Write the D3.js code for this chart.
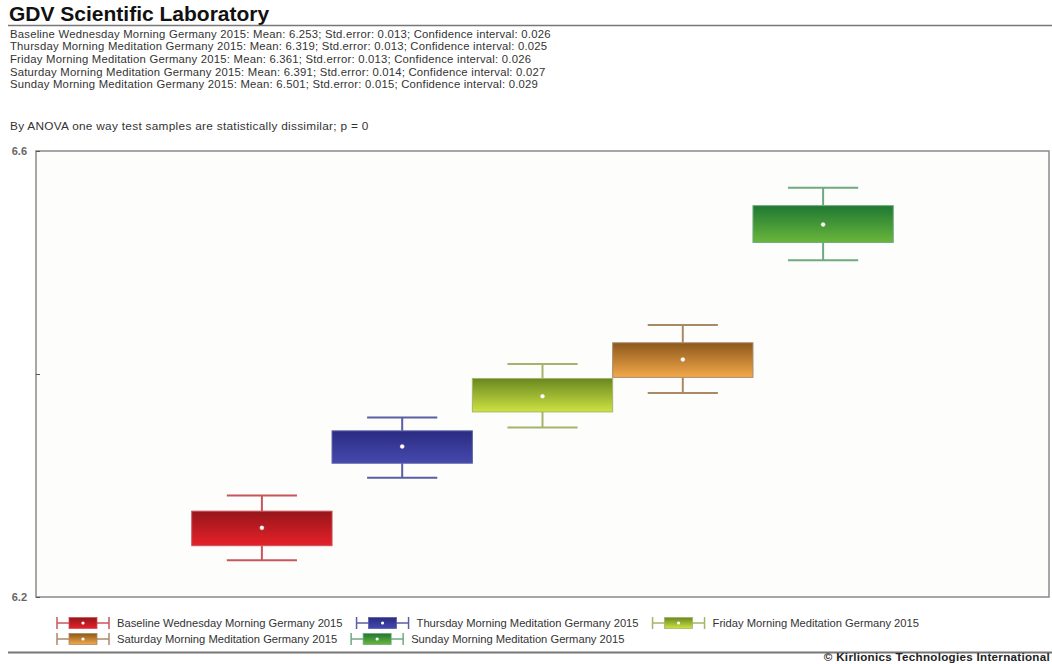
<!DOCTYPE html>
<html><head><meta charset="utf-8">
<script src="https://cdn.jsdelivr.net/npm/d3@7"></script>
<style>body{margin:0;background:#fff;}svg{display:block;font-family:"Liberation Sans",Arial,sans-serif;}</style>
</head><body>
<svg id="c" width="1052" height="664"></svg>
<script>
const categories = ["Baseline Wednesday Morning Germany 2015","Thursday Morning Meditation Germany 2015","Friday Morning Meditation Germany 2015","Saturday Morning Meditation Germany 2015","Sunday Morning Meditation Germany 2015"];
const means = ["6.253","6.319","6.361","6.391","6.501"];
const stdErrors = ["0.013","0.013","0.013","0.014","0.015"];
const confIntervals = ["0.026","0.025","0.026","0.027","0.029"];
const lows    = [6.233, 6.307, 6.352, 6.383, 6.502];
const q1s     = [6.246, 6.320, 6.366, 6.397, 6.518];
const medians = [6.262, 6.335, 6.380, 6.413, 6.534];
const q3s     = [6.277, 6.349, 6.396, 6.428, 6.551];
const highs   = [6.291, 6.361, 6.409, 6.444, 6.567];
const yTicks = [6.2, 6.4, 6.6];
const yTickLabels = ["6.2", "", "6.6"];
const title = "GDV Scientific Laboratory";
const anovaText = "By ANOVA one way test samples are statistically dissimilar; p = 0";
const copyright = "© Kirlionics Technologies International";

const gradTop    = ["#96161b","#2a2c82","#688820","#8c581c","#1e7832"];
const gradBottom = ["#e62129","#4549ad","#cfe242","#f4a94a","#6ab63c"];
const strokeCol  = ["#c9545c","#5a5ea6","#a4b46c","#a88a68","#6eaa7e"];

const svg = d3.select("#c");
const defs = svg.append("defs");
categories.forEach((c,i)=>{
  const g = defs.append("linearGradient").attr("id","g"+i).attr("x1",0).attr("y1",0).attr("x2",0).attr("y2",1);
  g.append("stop").attr("offset","0%").attr("stop-color",gradTop[i]);
  g.append("stop").attr("offset","100%").attr("stop-color",gradBottom[i]);
});

// Header
svg.append("text").attr("x",9).attr("y",21).attr("font-size",21).attr("font-weight","bold").attr("fill","#111").text(title);
svg.append("line").attr("x1",8).attr("x2",1052).attr("y1",25.5).attr("y2",25.5).attr("stroke","#777").attr("stroke-width",1.5);
const statsG = svg.append("g").attr("font-size",11.3).attr("letter-spacing",0.22).attr("fill","#333");
categories.forEach((c,i)=>{
  statsG.append("text").attr("x",10).attr("y",37.5+i*12.7)
    .text(`${c}: Mean: ${means[i]}; Std.error: ${stdErrors[i]}; Confidence interval: ${confIntervals[i]}`);
});
svg.append("text").attr("x",10).attr("y",130).attr("font-size",11.8).attr("letter-spacing",0.3).attr("fill","#333").text(anovaText);

// Plot
const L=36, R=1049, T=151, B=597;
const y = d3.scaleLinear().domain([6.2,6.6]).range([B,T]);
const x = d3.scaleBand().domain(categories).range([L,R]).paddingInner(0).paddingOuter(1.11);

svg.append("rect").attr("x",L).attr("y",T).attr("width",R-L).attr("height",B-T).attr("fill","#fdfdfc").attr("stroke","#8a8a8a").attr("stroke-width",1.5);

const yAxis = d3.axisLeft(y).tickValues(yTicks).tickFormat((d,i)=>yTickLabels[i]).tickSize(3).tickPadding(6);
const ya = svg.append("g").attr("transform",`translate(${L},0)`).call(yAxis);
ya.select(".domain").remove();
ya.selectAll(".tick line").attr("stroke","#555").attr("x2",4).attr("x1",0);
ya.selectAll(".tick text").attr("font-size",11).attr("font-weight","bold").attr("fill","#666").attr("font-family","Liberation Sans, Arial, sans-serif");

const bw = x.bandwidth();
categories.forEach((c,i)=>{
  const cx = x(c)+bw/2;
  const g = svg.append("g");
  const col = strokeCol[i];
  g.append("line").attr("x1",cx).attr("x2",cx).attr("y1",y(highs[i])).attr("y2",y(q3s[i])).attr("stroke",col).attr("stroke-width",2);
  g.append("line").attr("x1",cx).attr("x2",cx).attr("y1",y(q1s[i])).attr("y2",y(lows[i])).attr("stroke",col).attr("stroke-width",2);
  g.append("line").attr("x1",cx-bw/4).attr("x2",cx+bw/4).attr("y1",y(highs[i])).attr("y2",y(highs[i])).attr("stroke",col).attr("stroke-width",2);
  g.append("line").attr("x1",cx-bw/4).attr("x2",cx+bw/4).attr("y1",y(lows[i])).attr("y2",y(lows[i])).attr("stroke",col).attr("stroke-width",2);
  g.append("rect").attr("x",x(c)).attr("width",bw).attr("y",y(q3s[i])).attr("height",y(q1s[i])-y(q3s[i]))
    .attr("fill",`url(#g${i})`).attr("stroke",col).attr("stroke-width",1);
  g.append("circle").attr("cx",cx).attr("cy",y(medians[i])).attr("r",2).attr("fill","#fff").attr("stroke","#f0d8d8").attr("stroke-width",0.5);
});

// Legend (flow layout)
const leg = svg.append("g").attr("font-size",11.2).attr("fill","#333");
let lx = 57, ly = 623;
const maxX = 1000;
categories.forEach((c,i)=>{
  const t = leg.append("text").attr("y",ly+4).text(c);
  const tw = t.node().getComputedTextLength();
  const itemW = 60 + tw + 14;
  if (lx + itemW > maxX && lx > 57) { lx = 57; ly += 16; t.attr("y",ly+4); }
  t.attr("x",lx+60);
  const col = strokeCol[i];
  const s = leg.append("g");
  s.append("line").attr("x1",lx).attr("x2",lx+52).attr("y1",ly).attr("y2",ly).attr("stroke",col).attr("stroke-width",1.5);
  s.append("line").attr("x1",lx).attr("x2",lx).attr("y1",ly-6).attr("y2",ly+6).attr("stroke",col).attr("stroke-width",1.5);
  s.append("line").attr("x1",lx+52).attr("x2",lx+52).attr("y1",ly-6).attr("y2",ly+6).attr("stroke",col).attr("stroke-width",1.5);
  s.append("rect").attr("x",lx+12).attr("y",ly-5.5).attr("width",28).attr("height",11).attr("fill",`url(#g${i})`).attr("stroke",col).attr("stroke-width",0.8);
  s.append("circle").attr("cx",lx+26).attr("cy",ly).attr("r",1.6).attr("fill","#fff");
  lx += itemW;
});

// Footer
svg.append("line").attr("x1",8).attr("x2",1052).attr("y1",652.5).attr("y2",652.5).attr("stroke","#777").attr("stroke-width",2);
svg.append("text").attr("x",1050).attr("y",661).attr("text-anchor","end").attr("font-size",11.6).attr("letter-spacing",0.3).attr("font-weight","bold").attr("fill","#222").text(copyright);
</script>
</body></html>
